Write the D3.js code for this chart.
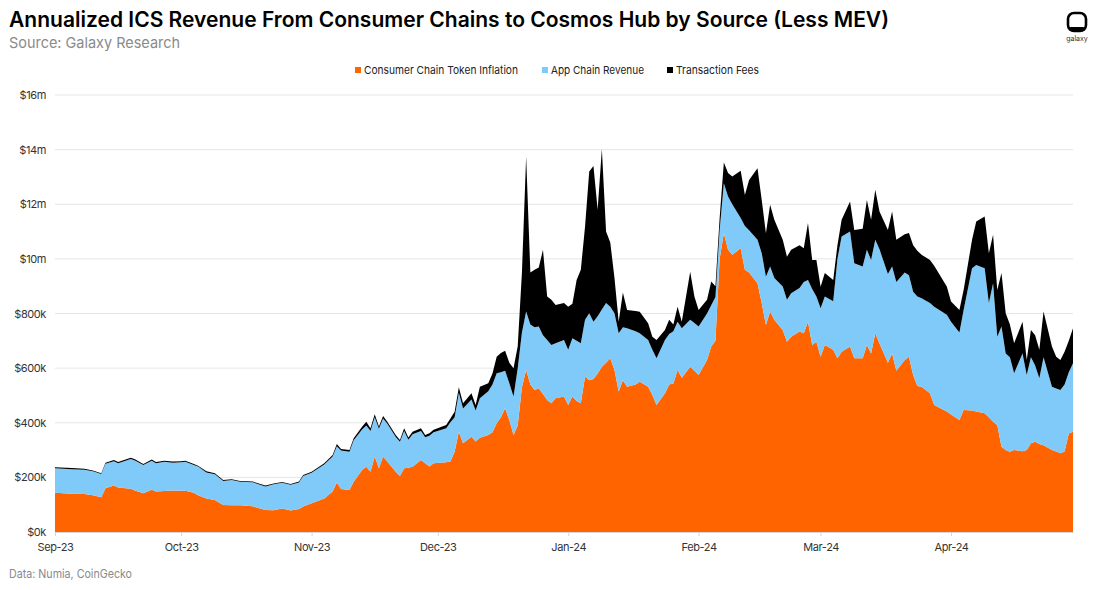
<!DOCTYPE html>
<html>
<head>
<meta charset="utf-8">
<script src="https://cdn.jsdelivr.net/npm/d3@7"></script>
<style>
  body { margin: 0; background: #fff; }
  text { font-family: Inter, "Noto Sans", sans-serif; }
</style>
</head>
<body>
<div id="chart"></div>
<script>
// values in $k (annualized)
var dates = [
  "2023-09-01","2023-09-05","2023-09-08","2023-09-10","2023-09-12","2023-09-13","2023-09-15","2023-09-16","2023-09-19","2023-09-20","2023-09-22","2023-09-24","2023-09-25","2023-09-27","2023-09-29",
  "2023-10-01","2023-10-02","2023-10-04","2023-10-05","2023-10-07","2023-10-09","2023-10-11","2023-10-13","2023-10-15","2023-10-18","2023-10-21","2023-10-23","2023-10-25","2023-10-27","2023-10-29","2023-10-30",
  "2023-11-01","2023-11-04","2023-11-06","2023-11-07","2023-11-08","2023-11-10","2023-11-11","2023-11-13","2023-11-14","2023-11-15","2023-11-16","2023-11-17","2023-11-18","2023-11-19","2023-11-21","2023-11-22","2023-11-23","2023-11-24","2023-11-25","2023-11-27","2023-11-28","2023-11-29","2023-11-30",
  "2023-12-03","2023-12-04","2023-12-05","2023-12-06","2023-12-07","2023-12-09","2023-12-10","2023-12-11","2023-12-13","2023-12-14","2023-12-15","2023-12-16","2023-12-17","2023-12-18","2023-12-19","2023-12-20","2023-12-21","2023-12-22","2023-12-23","2023-12-24","2023-12-25","2023-12-26","2023-12-27","2023-12-28","2023-12-29","2023-12-31",
  "2024-01-01","2024-01-02","2024-01-03","2024-01-04","2024-01-05","2024-01-06","2024-01-07","2024-01-08","2024-01-09","2024-01-10","2024-01-11","2024-01-12","2024-01-13","2024-01-14","2024-01-15","2024-01-17","2024-01-18","2024-01-20","2024-01-21","2024-01-22","2024-01-24","2024-01-25","2024-01-26","2024-01-27","2024-01-28","2024-01-30","2024-01-31",
  "2024-02-01","2024-02-03","2024-02-04","2024-02-05","2024-02-06","2024-02-07","2024-02-08","2024-02-09","2024-02-11","2024-02-12","2024-02-13","2024-02-15","2024-02-16","2024-02-17","2024-02-18","2024-02-19","2024-02-21","2024-02-22","2024-02-23","2024-02-25","2024-02-26","2024-02-27","2024-02-28","2024-02-29",
  "2024-03-01","2024-03-02","2024-03-04","2024-03-05","2024-03-06","2024-03-08","2024-03-09","2024-03-11","2024-03-12","2024-03-13","2024-03-14","2024-03-15","2024-03-17","2024-03-18","2024-03-19","2024-03-21","2024-03-22","2024-03-23","2024-03-24","2024-03-25","2024-03-27","2024-03-28","2024-03-31",
  "2024-04-01","2024-04-03","2024-04-04","2024-04-06","2024-04-07","2024-04-09","2024-04-10","2024-04-11","2024-04-12","2024-04-13","2024-04-14","2024-04-15","2024-04-16","2024-04-18","2024-04-19","2024-04-20","2024-04-21","2024-04-22","2024-04-23","2024-04-25","2024-04-26","2024-04-27","2024-04-28","2024-04-29","2024-04-30"
];

var inflation = [
  144,140,139,135,127,160,170,163,158,152,142,155,148,150,152,
  151,151,144,135,123,117,99,98,98,94,81,80,86,79,84,93,
  105,123,148,181,157,154,184,227,239,221,276,233,276,258,221,205,233,235,239,264,252,240,252,
  255,258,294,367,325,349,331,345,355,365,398,420,453,410,355,390,530,593,540,520,526,505,483,471,490,496,
  465,496,480,471,569,556,560,580,605,620,636,593,514,556,532,540,550,532,502,465,508,540,544,593,565,605,590,
  575,630,679,700,1000,1094,1033,1015,1039,960,950,911,838,758,807,777,740,697,715,734,728,770,685,697,
  642,685,667,636,660,679,636,636,685,654,728,690,620,654,590,630,642,575,535,532,508,465,441,
  430,410,447,445,441,435,420,404,392,312,300,294,300,296,300,325,330,322,318,300,295,288,295,361,367
];

var appRevenue = [
  89,90,89,87,85,90,89,89,109,110,103,106,104,107,102,
  104,106,101,105,95,94,88,92,86,88,86,95,94,94,97,112,
  112,124,128,133,141,140,152,148,151,149,144,145,140,138,127,125,137,103,119,106,95,112,113,
  125,144,126,143,127,136,114,145,160,175,183,165,137,135,141,210,200,214,220,230,226,215,220,214,201,207,
  202,213,220,220,208,245,210,210,210,218,189,208,214,194,214,195,178,171,165,171,195,185,191,177,181,172,175,
  177,170,151,160,106,183,195,185,111,160,155,159,183,177,165,153,159,153,159,159,187,153,205,165,
  177,177,178,364,422,421,348,336,348,342,342,345,325,318,325,320,298,305,327,324,330,360,354,
  340,320,366,521,537,531,418,507,323,440,354,346,281,358,275,315,280,241,322,232,230,232,245,224,251
];

var txFees = [
  4,4,4,3,3,4,5,4,5,4,4,4,4,4,4,
  4,4,4,3,4,4,3,3,3,3,3,3,3,3,4,4,
  4,5,6,8,6,6,7,10,14,10,11,8,9,8,7,7,10,8,9,10,8,10,9,
  12,14,20,20,19,23,20,42,30,40,61,70,74,75,104,80,220,568,190,210,216,313,159,165,140,135,
  158,127,223,269,341,519,570,390,587,262,235,129,42,127,67,74,78,61,48,67,37,52,25,55,24,176,97,
  61,50,87,40,44,76,86,102,173,114,184,262,195,159,226,213,171,158,159,157,124,208,106,134,
  79,86,78,50,61,110,122,138,183,147,183,138,161,201,155,140,155,170,168,159,158,150,104,
  74,83,73,104,159,189,183,177,171,196,147,120,110,116,55,100,110,104,167,147,117,110,120,115,128
];

var keys = ["inflation", "app", "fees"];
var legendLabels = ["Consumer Chain Token Inflation", "App Chain Revenue", "Transaction Fees"];
var colors = ["#ff6400", "#80cafa", "#000000"];

var yTicks = [0, 200, 400, 600, 800, 1000, 1200, 1400, 1600];
var yTickLabels = ["$0k", "$200k", "$400k", "$600k", "$800k", "$10m", "$12m", "$14m", "$16m"];
var xTicks = ["2023-09-01","2023-10-01","2023-11-01","2023-12-01","2024-01-01","2024-02-01","2024-03-01","2024-04-01"];
var xTickLabels = ["Sep-23","Oct-23","Nov-23","Dec-23","Jan-24","Feb-24","Mar-24","Apr-24"];

var W = 1100, H = 590;
var margin = {top: 95, right: 27, bottom: 58, left: 55};
var width = W - margin.left - margin.right,
    height = H - margin.top - margin.bottom;

var parse = d3.timeParse("%Y-%m-%d");

var data = dates.map(function(d, i) {
  return {date: parse(d), inflation: inflation[i], app: appRevenue[i], fees: txFees[i]};
});

var svg = d3.select("#chart")
  .append("svg")
  .attr("width", W)
  .attr("height", H);

// title block
svg.append("text")
  .attr("x", 9).attr("y", 27)
  .attr("textLength", 880).attr("lengthAdjust", "spacingAndGlyphs")
  .style("font-size", "21px").style("font-weight", 600).style("fill", "#000")
  .text("Annualized ICS Revenue From Consumer Chains to Cosmos Hub by Source (Less MEV)");

svg.append("text")
  .attr("x", 9).attr("y", 48)
  .attr("textLength", 171).attr("lengthAdjust", "spacingAndGlyphs")
  .style("font-size", "15px").style("fill", "#8a8a8a")
  .text("Source: Galaxy Research");

svg.append("text")
  .attr("x", 9).attr("y", 578)
  .attr("textLength", 123).attr("lengthAdjust", "spacingAndGlyphs")
  .style("font-size", "12px").style("fill", "#8a8a8a")
  .text("Data: Numia, CoinGecko");

// logo
var logo = svg.append("g");
logo.append("rect")
  .attr("x", 1068).attr("y", 13).attr("width", 18).attr("height", 18).attr("rx", 6)
  .attr("fill", "none").attr("stroke", "#000").attr("stroke-width", 2.6);
logo.append("rect")
  .attr("x", 1069).attr("y", 27).attr("width", 16).attr("height", 4).attr("rx", 2)
  .attr("fill", "#000");
logo.append("text")
  .attr("x", 1077).attr("y", 41).attr("text-anchor", "middle")
  .style("font-size", "7px").style("fill", "#333")
  .text("galaxy");

// legend
var legendX = [355, 542, 667];
var legendLen = [154, 93, 83];
var legend = svg.append("g");
keys.forEach(function(k, i) {
  legend.append("rect")
    .attr("x", legendX[i]).attr("y", 67).attr("width", 6).attr("height", 6)
    .attr("fill", colors[i]);
  legend.append("text")
    .attr("x", legendX[i] + 9).attr("y", 74)
    .attr("textLength", legendLen[i]).attr("lengthAdjust", "spacingAndGlyphs")
    .style("font-size", "11px").style("fill", "#222")
    .text(legendLabels[i]);
});

var g = svg.append("g")
  .attr("transform", "translate(" + margin.left + "," + margin.top + ")");

var x = d3.scaleTime()
  .domain([parse("2023-09-01"), parse("2024-04-30")])
  .range([0, width]);

var y = d3.scaleLinear()
  .domain([0, 1600])
  .range([height, 0]);

// grid
g.append("g")
  .selectAll("line")
  .data(yTicks)
  .enter().append("line")
  .attr("x1", 0).attr("x2", width)
  .attr("y1", function(d) { return y(d); })
  .attr("y2", function(d) { return y(d); })
  .attr("stroke", "#e6e6e6").attr("stroke-width", 1);

// Y axis labels
var yAxis = g.append("g")
  .call(d3.axisLeft(y)
    .tickValues(yTicks)
    .tickSize(0)
    .tickPadding(9)
    .tickFormat(function(d, i) { return yTickLabels[i]; }));
yAxis.select(".domain").remove();
yAxis.selectAll("text")
  .style("font-family", "Inter, sans-serif")
  .style("font-size", "11px").style("fill", "#333").style("letter-spacing", "-0.4px");

// stacked areas
var stack = d3.stack().keys(keys);
var series = stack(data);

var area = d3.area()
  .x(function(d) { return x(d.data.date); })
  .y0(function(d) { return y(d[0]); })
  .y1(function(d) { return y(d[1]); });

g.selectAll(".layer")
  .data(series)
  .enter().append("path")
  .attr("class", "layer")
  .attr("d", area)
  .attr("fill", function(d, i) { return colors[i]; });

// X axis
var xAxis = g.append("g")
  .attr("transform", "translate(0," + height + ")")
  .call(d3.axisBottom(x)
    .tickValues(xTicks.map(parse))
    .tickSizeInner(4)
    .tickSizeOuter(0)
    .tickPadding(7)
    .tickFormat(function(d, i) { return xTickLabels[i]; }));
xAxis.select(".domain").attr("stroke", "#d6d6d6");
xAxis.selectAll(".tick line").attr("stroke", "#d6d6d6");
xAxis.selectAll("text")
  .style("font-family", "Inter, sans-serif")
  .style("font-size", "11px").style("fill", "#333").style("letter-spacing", "-0.4px");
</script>
</body>
</html>
